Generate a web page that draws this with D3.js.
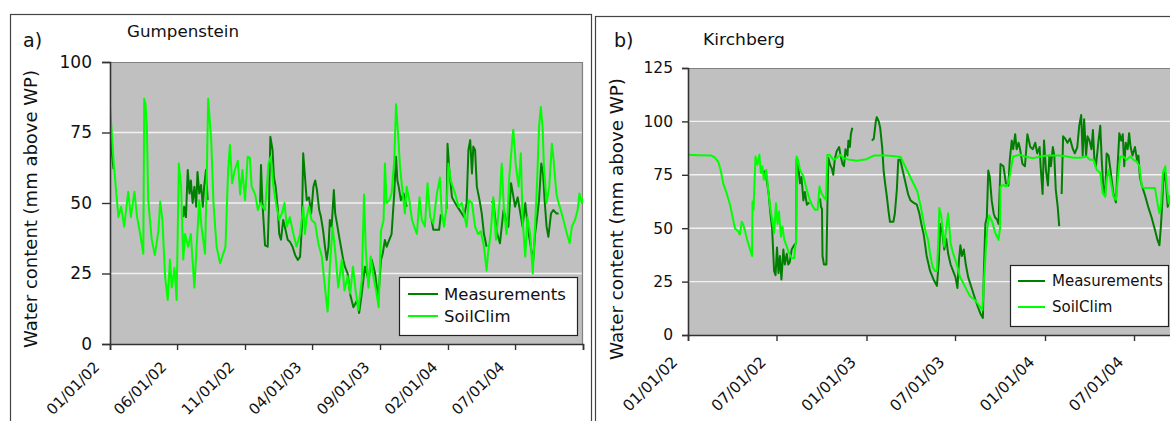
<!DOCTYPE html>
<html>
<head>
<meta charset="utf-8">
<script src="https://cdn.jsdelivr.net/npm/d3@7/dist/d3.min.js"></script>
<style>
  body { margin: 0; background: #fff; }
  svg { display: block; font-family: "Comic Sans MS", "DejaVu Sans", sans-serif; }
</style>
</head>
<body>
<svg id="chart" width="1170" height="421"></svg>
<script>
// day offsets from 01/01/02, water content in mm above WP
var gumSoilClim = [
  [0,84],[4,75],[8,65],[15,52],[19,45],[25,48.7],[32,41.6],[41,54],[47,45],[55,54],[61,45],[68,39],[75,32],[77,87],[80,85],
  [83,77],[86,51],[94,37],[101,31.5],[109,40],[113,50.5],[118,44],[124,24],[130,15.6],[135,30],[139,20],[145,27],[150,15.6],
  [155,64],[160,56],[165,30],[169,39],[176,34.5],[182,39],[190,20],[195,34.5],[201,51],[206,41.6],[214,32],[218,60.5],[221,87],
  [228,72],[233,50],[240,34.5],[248,28.6],[255,32],[260,34.5],[266,61.7],[270,70.6],[275,57],[281,61.7],[288,65],[293,53],
  [298,61.7],[304,51],[310,66.4],[315,66],[319,55.8],[327,53],[333,47.5],[338,50],[349,47.5],[357,64],[362,66.4],[368,55.8],
  [375,48.7],[381,44],[387,46.3],[393,50],[398,41.6],[405,45],[413,39],[420,34.5],[428,39],[435,48.7],[439,39],[443,45],
  [448,48.7],[454,44],[462,42.8],[469,35.7],[477,31],[484,20],[490,11.5],[495,27.4],[501,41.6],[507,33],[514,20],[522,30],
  [528,19],[535,24],[541,18],[547,27.4],[553,19],[559,12],[567,22.7],[572,53],[576,33],[582,20],[587,31],[593,24],[599,19],
  [605,13],[610,40],[616,44],[619,64],[623,50],[629,51],[634,53.4],[640,65],[644,85],[649,73.5],[653,63],[659,53.4],[664,46.3],
  [668,55.8],[674,51],[680,44],[685,41.6],[691,39],[697,52],[702,44],[709,41.6],[715,57],[721,45],[728,42.8],[736,53.4],
  [743,59],[747,46.3],[752,41.6],[758,48.7],[762,64],[767,58],[777,53.4],[785,48.7],[792,50],[797,46.3],[803,41.6],[808,51],
  [815,50],[822,41.6],[829,39],[835,40],[842,34.5],[848,26],[851,32],[857,39],[863,52],[869,37],[877,50],[882,64],[887,47.5],
  [893,39],[899,59],[905,71],[908,76],[914,63],[920,55.8],[925,67.6],[929,44],[935,31],[940,45],[946,39],[952,25],[957,41.6],
  [962,59],[966,77],[970,84],[974,77],[977,63],[983,50],[989,55.8],[995,71],[999,65],[1005,53.4],[1010,50],[1015,47.5],
  [1021,44],[1029,39],[1035,35.7],[1040,41.6],[1047,44],[1053,47.5],[1057,53.4],[1062,50],[1065,52]
];
var gumMeasurements = [
  [0,76],[4,68],[8,62],null,
  [165,45],[167,48.7],[171,45],[175,61.7],[179,53.4],[182,58],[186,50],[190,55.8],[194,48.7],[197,61],[201,53.4],[205,56.4],
  [209,48.7],[212,55.8],[216,61.7],[220,51],null,
  [338,50],[340,63.5],[343,51],[346,42.8],[349,35],[355,34.5],[358,48.7],[361,73.5],[366,68.8],[369,59.3],[373,55.8],[378,47.5],
  [381,39],[385,37],[390,44],[396,40],[400,37],[405,36.3],[411,34.5],[417,31.5],[423,29.8],[428,31],[432,41.6],[435,67.6],
  [439,59.3],[443,51],[448,52],[453,46.3],[458,55.8],[462,58],[466,54.6],[471,47.5],[475,45],[480,40],[484,34.5],[488,29.8],
  [492,34.5],[495,44],[499,41.6],[504,54.6],[507,46.3],[511,42.8],[516,38],[520,34.5],[525,30],[529,27.4],[535,25],[541,17.5],
  [548,13],[556,15.4],[561,11],[567,18],[574,27.4],[582,22.7],[589,30],[597,25],[604,15.6],[610,29.8],[614,32],[619,36.9],
  [623,34.5],[629,37],[634,39],[640,53.4],[644,66.4],[647,58],[650,55.8],[655,51],[661,53.4],[668,48.7],null,
  [724,44],[728,40.5],[741,40.5],[745,46],null,
  [758,48],[760,71],[764,61.7],[770,52],[777,50],[785,48],[792,46.3],[797,45],[803,50],[807,68.8],[811,72.3],[815,60.5],
  [818,70],[822,68.8],[826,55.8],[832,51],[837,46.3],[842,39],[848,34.5],null,
  [860,50],[863,51],[867,45],[872,39],[878,35.7],[886,47.5],[892,44],[897,41.6],[903,57],[907,53.4],[912,48.7],[918,52],
  [924,46.3],[929,41.6],[935,50],[939,44],[944,38],[950,32],[953,29.8],[957,39],[961,44],[966,51],[971,64],[975,60.5],
  [979,50],[983,41.6],[987,38],[993,46.3],[998,47.5],[1005,46.3],[1010,46.3]
];
var kirSoilClim = [
  [0,84.4],[20,84.2],[48,84],[55,83],[62,81],[67,77],[72,71],[79,66.4],[86,61],[91,55.5],[96,50],[103,48.4],[106,47],[110,53],
  [113,51.6],[117,48.4],[121,44.5],[127,40],[131,37],[132,62.5],[134,58.6],[138,83.6],[142,79.7],[146,84.4],[149,75.8],
  [152,79],[155,72.7],[160,77.3],[164,68],[168,60],[172,54],[176,47.7],[180,61.7],[183,52],[186,57.8],[190,46],[193,50.8],
  [197,44.5],[202,41.4],[207,38.3],[212,36],[217,36],[221,44.5],[222,83.6],[225,82],[229,77.3],[236,74.2],[243,68],[249,63.3],
  [255,60.2],[260,58.6],[265,58.6],[269,69.5],[273,66.4],[277,64.8],[282,63.3],[285,84.4],[290,84.4],[297,82],[304,82.8],
  [311,84.4],[318,82.8],[331,82],[345,81.6],[365,82.3],[380,84],[406,84],[427,83.6],[435,83.3],[444,79],[454,74.2],
  [464,69.5],[469,67.2],[476,60],[485,49.2],[491,44.5],[495,38],[500,32],[505,30],[509,30],[512,45],[514,59.4],[518,55.5],
  [524,41.4],[528,50],[532,57],[537,43],[542,38.3],[549,33.6],[556,27.3],[563,24.2],[570,21],[577,18],[587,16.4],[597,13.3],
  [602,11.7],[605,24.2],[609,40],[612,50],[616,56],[622,53],[628,48],[635,44.5],[638,50],[639,69.5],[645,70.3],[650,69.5],
  [655,71],[660,77.3],[665,83.6],[679,84.4],[693,83.3],[706,82.8],[720,83.6],[733,84],[747,84],[761,84],[774,83.6],[788,83],
  [802,83],[815,83.6],[822,82],[829,82],[836,77.3],[843,75.8],[848,66.4],[853,64.8],[856,72.6],[860,77.3],[864,72.6],
  [870,64.8],[875,63.3],[880,75.8],[884,83.6],[890,83.6],[897,82],[904,83.6],[911,82],[918,81],[923,79],[928,69.5],
  [932,68.8],[945,68.8],[955,68.8],[960,61.7],[964,57],[967,60],[971,75.8],[976,79],[979,69.5],[983,61.7],[986,65],
  [995,60],[1005,62]
];
var kirMeasurements = [
  [155,77],[160,74],[165,66],[168,58],[172,50],[176,30],[179,28],[182,41],[185,29],[188,37],[191,26],[195,40],[198,33],
  [202,38],[205,33],[208,34],[212,40],[217,42],[221,43],[222,82],[226,78],[229,71],[232,74],[236,63],[239,67],[243,61],
  [248,62],null,
  [270,64],[272,60],[274,59],[275,37],[278,33],[283,33],[285,60],[287,83],[290,80],[294,78],[297,75],[300,82],[304,86],
  [309,88],[312,84],[316,80],[319,79],[322,87],[326,84],[328,91],[331,88],[333,94],[336,97],null,
  [376,91],[380,92],[384,100],[386,102],[390,100],[393,97],[397,88],[400,77],[403,71],[406,66],[410,58],[413,53],[420,53],
  [423,57],[427,68],[430,82],[434,82],[439,77],[444,72],[450,66],[455,63],[461,62],[468,61],[473,57],[478,51],[482,47],
  [488,37],[495,30],[502,26],[509,23],[513,35],[516,52],[520,48],[524,40],[528,45],[532,38],[537,33],[542,30],[547,27],
  [551,22],[554,35],[557,42],[560,37],[564,40],[568,33],[573,27],[580,22],[587,17],[593,13],[598,10],[603,8],[605,30],
  [608,52],[611,55],[614,77],[617,74],[621,63],[625,57],[628,55],[632,54],[635,52],[639,80],[645,79],[650,71],[655,70],
  [658,82],[662,91],[665,87],[669,94],[672,87],[676,90],[679,87],[684,80],[689,79],[694,94],[700,88],[705,87],[710,90],
  [714,85],[719,88],[721,79],[725,66],[728,91],[732,77],[736,70],[739,84],[742,79],[746,88],[749,84],[752,68],[756,60],
  [759,51],null,
  [764,66],[767,93],[771,92],[776,90],[781,92],[787,87],[791,85],[796,88],[800,98],[804,103],[807,84],[810,101],[814,84],
  [817,93],[821,91],[825,87],[828,96],[831,82],[834,79],[839,90],[843,98],[846,82],[849,70],[853,65],[856,85],[860,84],
  [864,77],[870,66],[875,62],[878,77],[882,94.5],[886,91],[889,94],[892,79],[895,90],[899,87],[902,94.5],[905,88],[909,84],
  [914,88],[918,82],[921,84],[924,74],[928,70],[935,65],[941,60],[948,55],[955,49],[960,44.5],[964,42],[967,51],[970,63],
  [973,77],[977,72],[981,60],[986,65],[995,62]
];

var gumTickDates = ["2002-01-01","2002-06-01","2002-11-01","2003-04-01","2003-09-01","2004-02-01","2004-07-01","2004-12-01"];
var gumTickLabels = ["01/01/02","06/01/02","11/01/02","04/01/03","09/01/03","02/01/04","07/01/04",""];
var kirTickDates = ["2002-01-01","2002-07-01","2003-01-01","2003-07-01","2004-01-01","2004-07-01","2005-01-01"];
var kirTickLabels = ["01/01/02","07/01/02","01/01/03","07/01/03","01/01/04","07/01/04",""];
var gumYTicks = [0, 25, 50, 75, 100];
var kirYTicks = [0, 25, 50, 75, 100, 125];
var seriesNames = ["Measurements", "SoilClim"];
var seriesColors = ["#008000", "#00ff00"];

var parseDate = d3.timeParse("%Y-%m-%d");
var day0 = parseDate("2002-01-01");
var svg = d3.select("#chart");

function drawPanel(p) {
    var g = svg.append("g");
    var x = d3.scaleTime().domain([parseDate(p.tickDates[0]), parseDate(p.tickDates[p.tickDates.length - 1])]).range([p.left, p.right]);
    var y = d3.scaleLinear().domain([0, p.yTicks[p.yTicks.length - 1]]).range([p.bottom, p.top]);

    // chart frame
    g.append("rect")
        .attr("x", p.frame[0] + 0.5).attr("y", p.frame[1] + 0.5)
        .attr("width", p.frame[2]).attr("height", p.frame[3])
        .attr("fill", "#fff").attr("stroke", "#444").attr("stroke-width", 1.2);

    // plot area
    g.append("rect")
        .attr("x", p.left).attr("y", p.top)
        .attr("width", p.right - p.left).attr("height", p.bottom - p.top)
        .attr("fill", "#c0c0c0");

    g.selectAll("line.grid")
        .data(p.yTicks.slice(1, -1))
        .enter().append("line")
        .attr("class", "grid")
        .attr("x1", p.left).attr("x2", p.right)
        .attr("y1", function(d) { return y(d); })
        .attr("y2", function(d) { return y(d); })
        .attr("stroke", "#f2f2f2").attr("stroke-width", 1.4);

    // plot border top / right
    g.append("path")
        .attr("d", "M" + p.left + "," + (p.top + 0.5) + "H" + (p.right - 0.5) + "V" + p.bottom)
        .attr("fill", "none").attr("stroke", "#808080").attr("stroke-width", 1.2);

    var clipId = "clip-" + p.id;
    svg.append("clipPath").attr("id", clipId)
        .append("rect").attr("x", p.left).attr("y", p.top)
        .attr("width", p.right - p.left).attr("height", p.bottom - p.top);

    var line = d3.line()
        .defined(function(d) { return d != null; })
        .x(function(d) { return x(d3.timeDay.offset(day0, d[0])); })
        .y(function(d) { return y(d[1]); });

    [p.meas, p.soil].forEach(function(series, i) {
        g.append("path")
            .datum(series)
            .attr("clip-path", "url(#" + clipId + ")")
            .attr("fill", "none")
            .attr("stroke", seriesColors[i])
            .attr("stroke-width", 2)
            .attr("stroke-linejoin", "round")
            .attr("d", line);
    });

    // y axis
    var yAxis = g.append("g")
        .attr("transform", "translate(" + p.left + ",0)")
        .call(d3.axisLeft(y).tickValues(p.yTicks).tickSize(p.yTickSize).tickPadding(p.yPad));
    yAxis.select(".domain").attr("stroke", "#333").attr("stroke-width", 1.6);
    yAxis.selectAll(".tick line").attr("stroke", "#333").attr("stroke-width", 1.4);
    yAxis.selectAll("text")
        .attr("fill", "#111")
        .style("font-family", "'Comic Sans MS','DejaVu Sans',sans-serif")
        .style("font-size", p.yFont + "px");

    // x axis
    var xAxis = g.append("g")
        .attr("transform", "translate(0," + p.bottom + ")")
        .call(d3.axisBottom(x)
            .tickValues(p.tickDates.map(parseDate))
            .tickSize(6)
            .tickFormat(function(d, i) { return p.tickLabels[i]; }));
    xAxis.select(".domain").attr("stroke", "#333").attr("stroke-width", 1.6);
    xAxis.selectAll(".tick line").attr("stroke", "#333").attr("stroke-width", 1.4);
    xAxis.selectAll("text")
        .attr("x", 0).attr("y", 0).attr("dy", 0)
        .attr("text-anchor", "end")
        .attr("transform", "translate(" + p.xLabelDx + "," + p.xLabelDy + ") rotate(-45)")
        .attr("fill", "#111")
        .style("font-family", "'Comic Sans MS','DejaVu Sans',sans-serif")
        .style("font-size", p.xFont + "px");

    // y title
    g.append("text")
        .attr("transform", "translate(" + p.yTitle[0] + "," + p.yTitle[1] + ") rotate(-90)")
        .attr("text-anchor", "middle")
        .attr("textLength", p.yTitle[2])
        .attr("lengthAdjust", "spacingAndGlyphs")
        .style("font-size", p.yTitleFont + "px")
        .attr("fill", "#111")
        .text("Water content (mm above WP)");

    // panel letter and site name
    g.append("text")
        .attr("x", p.letter[0]).attr("y", p.letter[1])
        .style("font-size", "19px").attr("fill", "#111")
        .text(p.letterText);
    g.append("text")
        .attr("x", p.name[0]).attr("y", p.name[1])
        .attr("textLength", p.name[2])
        .attr("lengthAdjust", "spacingAndGlyphs")
        .style("font-size", p.nameFont + "px").attr("fill", "#111")
        .text(p.nameText);

    // legend
    var lg = g.append("g");
    lg.append("rect")
        .attr("x", p.legend[0] + 0.5).attr("y", p.legend[1] + 0.5)
        .attr("width", p.legend[2]).attr("height", p.legend[3])
        .attr("fill", "#fff").attr("stroke", "#222").attr("stroke-width", 1.2);
    seriesNames.forEach(function(name, i) {
        var ly = p.legendRows[i];
        lg.append("line")
            .attr("x1", p.legendLine[0]).attr("x2", p.legendLine[1])
            .attr("y1", ly).attr("y2", ly)
            .attr("stroke", seriesColors[i]).attr("stroke-width", 2);
        lg.append("text")
            .attr("x", p.legendLine[2]).attr("y", ly)
            .attr("dy", "0.36em")
            .style("font-size", p.legendFont + "px")
            .attr("fill", "#111")
            .text(name);
    });
}

drawPanel({
    id: "gum",
    frame: [10, 14, 581, 420],
    left: 110, right: 583, top: 62, bottom: 344,
    tickDates: gumTickDates, tickLabels: gumTickLabels, yTicks: gumYTicks,
    soil: gumSoilClim, meas: gumMeasurements,
    yTickSize: 8, yPad: 10, yFont: 17, xFont: 15, xLabelDx: -10, xLabelDy: 24,
    yTitle: [37, 209, 278], yTitleFont: 17,
    letter: [23, 47], letterText: "a)",
    name: [127, 37, 112], nameFont: 16.5, nameText: "Gumpenstein",
    legend: [399, 277, 178, 58], legendRows: [294, 316], legendLine: [408, 438, 444], legendFont: 16.5
});

drawPanel({
    id: "kir",
    frame: [595, 16, 620, 420],
    left: 688, right: 1224, top: 68, bottom: 335,
    tickDates: kirTickDates, tickLabels: kirTickLabels, yTicks: kirYTicks,
    soil: kirSoilClim, meas: kirMeasurements,
    yTickSize: 6, yPad: 9, yFont: 15.5, xFont: 15.5, xLabelDx: -10, xLabelDy: 28,
    yTitle: [623, 219, 282], yTitleFont: 17,
    letter: [614, 47], letterText: "b)",
    name: [703, 45, 82], nameFont: 16.5, nameText: "Kirchberg",
    legend: [1010, 265, 158, 61], legendRows: [281, 307], legendLine: [1018, 1045, 1052], legendFont: 15
});
</script>
</body>
</html>
